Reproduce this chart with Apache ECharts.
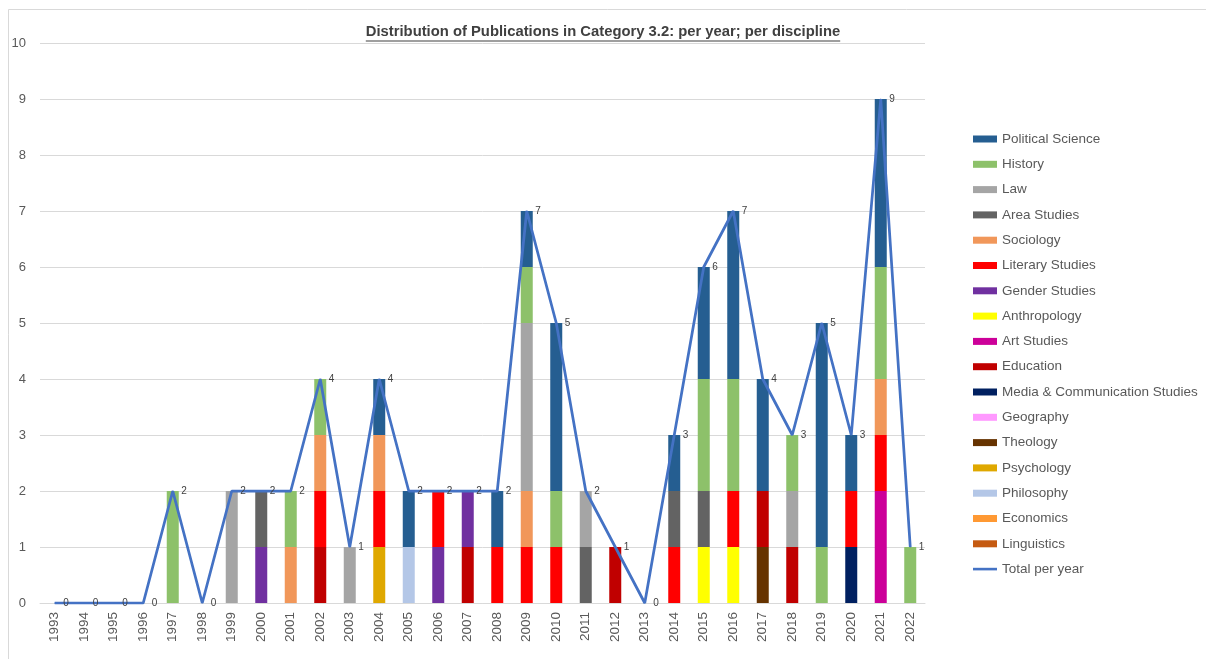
<!DOCTYPE html>
<html>
<head>
<meta charset="utf-8">
<script src="https://cdn.jsdelivr.net/npm/echarts@6/dist/echarts.min.js"></script>
<style>
html,body{margin:0;padding:0;background:#fff;}
#chart{width:1206px;height:659px;}
</style>
</head>
<body>
<div id="chart"></div>
<script>
const years = ['1993','1994','1995','1996','1997','1998','1999','2000','2001','2002','2003','2004','2005','2006','2007','2008','2009','2010','2011','2012','2013','2014','2015','2016','2017','2018','2019','2020','2021','2022'];
//                          93 94 95 96 97 98 99 00 01 02 03 04 05 06 07 08 09 10 11 12 13 14 15 16 17 18 19 20 21 22
const politicalScience   = [0, 0, 0, 0, 0, 0, 0, 0, 0, 0, 0, 1, 1, 0, 0, 1, 1, 3, 0, 0, 0, 1, 2, 3, 2, 0, 4, 1, 3, 0];
const history            = [0, 0, 0, 0, 2, 0, 0, 0, 1, 1, 0, 0, 0, 0, 0, 0, 1, 1, 0, 0, 0, 0, 2, 2, 0, 1, 1, 0, 2, 1];
const law                = [0, 0, 0, 0, 0, 0, 2, 0, 0, 0, 1, 0, 0, 0, 0, 0, 3, 0, 1, 0, 0, 0, 0, 0, 0, 1, 0, 0, 0, 0];
const areaStudies        = [0, 0, 0, 0, 0, 0, 0, 1, 0, 0, 0, 0, 0, 0, 0, 0, 0, 0, 1, 0, 0, 1, 1, 0, 0, 0, 0, 0, 0, 0];
const sociology          = [0, 0, 0, 0, 0, 0, 0, 0, 1, 1, 0, 1, 0, 0, 0, 0, 1, 0, 0, 0, 0, 0, 0, 0, 0, 0, 0, 0, 1, 0];
const literaryStudies    = [0, 0, 0, 0, 0, 0, 0, 0, 0, 1, 0, 1, 0, 1, 0, 1, 1, 1, 0, 0, 0, 1, 0, 1, 0, 0, 0, 1, 1, 0];
const genderStudies      = [0, 0, 0, 0, 0, 0, 0, 1, 0, 0, 0, 0, 0, 1, 1, 0, 0, 0, 0, 0, 0, 0, 0, 0, 0, 0, 0, 0, 0, 0];
const anthropology       = [0, 0, 0, 0, 0, 0, 0, 0, 0, 0, 0, 0, 0, 0, 0, 0, 0, 0, 0, 0, 0, 0, 1, 1, 0, 0, 0, 0, 0, 0];
const artStudies         = [0, 0, 0, 0, 0, 0, 0, 0, 0, 0, 0, 0, 0, 0, 0, 0, 0, 0, 0, 0, 0, 0, 0, 0, 0, 0, 0, 0, 2, 0];
const education          = [0, 0, 0, 0, 0, 0, 0, 0, 0, 1, 0, 0, 0, 0, 1, 0, 0, 0, 0, 1, 0, 0, 0, 0, 1, 1, 0, 0, 0, 0];
const mediaCommunication = [0, 0, 0, 0, 0, 0, 0, 0, 0, 0, 0, 0, 0, 0, 0, 0, 0, 0, 0, 0, 0, 0, 0, 0, 0, 0, 0, 1, 0, 0];
const geography          = [0, 0, 0, 0, 0, 0, 0, 0, 0, 0, 0, 0, 0, 0, 0, 0, 0, 0, 0, 0, 0, 0, 0, 0, 0, 0, 0, 0, 0, 0];
const theology           = [0, 0, 0, 0, 0, 0, 0, 0, 0, 0, 0, 0, 0, 0, 0, 0, 0, 0, 0, 0, 0, 0, 0, 0, 1, 0, 0, 0, 0, 0];
const psychology         = [0, 0, 0, 0, 0, 0, 0, 0, 0, 0, 0, 1, 0, 0, 0, 0, 0, 0, 0, 0, 0, 0, 0, 0, 0, 0, 0, 0, 0, 0];
const philosophy         = [0, 0, 0, 0, 0, 0, 0, 0, 0, 0, 0, 0, 1, 0, 0, 0, 0, 0, 0, 0, 0, 0, 0, 0, 0, 0, 0, 0, 0, 0];
const economics          = [0, 0, 0, 0, 0, 0, 0, 0, 0, 0, 0, 0, 0, 0, 0, 0, 0, 0, 0, 0, 0, 0, 0, 0, 0, 0, 0, 0, 0, 0];
const linguistics        = [0, 0, 0, 0, 0, 0, 0, 0, 0, 0, 0, 0, 0, 0, 0, 0, 0, 0, 0, 0, 0, 0, 0, 0, 0, 0, 0, 0, 0, 0];
const totalPerYear       = [0, 0, 0, 0, 2, 0, 2, 2, 2, 4, 1, 4, 2, 2, 2, 2, 7, 5, 2, 1, 0, 3, 6, 7, 4, 3, 5, 3, 9, 1];

const yTicks = [0,1,2,3,4,5,6,7,8,9,10];
const titleText = 'Distribution of Publications in Category 3.2: per year; per discipline';

// legend order (top to bottom); stacking uses the reverse order (bottom first)
const disciplines = [
  ['Political Science', politicalScience, '#255E91'],
  ['History', history, '#8DC16A'],
  ['Law', law, '#A5A5A5'],
  ['Area Studies', areaStudies, '#636363'],
  ['Sociology', sociology, '#F1975A'],
  ['Literary Studies', literaryStudies, '#FF0000'],
  ['Gender Studies', genderStudies, '#7030A0'],
  ['Anthropology', anthropology, '#FFFF00'],
  ['Art Studies', artStudies, '#CC0099'],
  ['Education', education, '#C00000'],
  ['Media & Communication Studies', mediaCommunication, '#002060'],
  ['Geography', geography, '#FF99FF'],
  ['Theology', theology, '#663300'],
  ['Psychology', psychology, '#DFA800'],
  ['Philosophy', philosophy, '#B4C7E7'],
  ['Economics', economics, '#FF9933'],
  ['Linguistics', linguistics, '#C55A11']
];

const FONT = 'Liberation Sans';
const chart = echarts.init(document.getElementById('chart'), null, {renderer:'canvas'});

const series = disciplines.slice().reverse().map(d => ({
  name: d[0], type: 'bar', stack: 'total', barWidth: 12,
  data: d[1].map(v => v === 0 ? '-' : v),
  itemStyle: {color: d[2]},
  emphasis: {disabled: true}
}));
series.push({
  name: 'Total per year', type: 'line', data: totalPerYear,
  symbol: 'circle', symbolSize: 1, showSymbol: true,
  lineStyle: {color: '#4472C4', width: 2.75},
  itemStyle: {color: '#4472C4'},
  label: {show: true, position: 'right', distance: 8, color: '#404040', fontSize: 10, fontFamily: FONT},
  z: 5, emphasis: {disabled: true}
});

// measure title width for underline
const TITLE_SIZE = 14.8;
const cv = document.createElement('canvas').getContext('2d');
cv.font = 'bold ' + TITLE_SIZE + 'px "' + FONT + '"';
const tw = cv.measureText(titleText).width;
const cx = 603;

const legendData = disciplines.map(d => ({name: d[0], icon: 'rect'}));
legendData.push({name: 'Total per year', icon: 'path://M0,0h24v2.6H0z'});

chart.setOption({
  animation: false,
  backgroundColor: '#fff',
  title: {
    text: titleText, left: cx, top: 24, padding: 0, textAlign: 'center',
    textStyle: {fontFamily: FONT, fontSize: TITLE_SIZE, fontWeight: 'bold', color: '#404040'}
  },
  graphic: [
    {type: 'polyline', silent: true, shape: {points: [[8.5, 659], [8.5, 9.5], [1206, 9.5]]}, style: {stroke: '#D9D9D9', lineWidth: 1, fill: null}},
    {type: 'rect', silent: true, z: 10, shape: {x: cx - tw / 2, y: 40.5, width: tw, height: 1}, style: {fill: '#404040'}}
  ],
  grid: {left: 40, right: 281, top: 43, bottom: 56, containLabel: false},
  legend: {
    orient: 'vertical', left: 973, top: 131, padding: 0, data: legendData,
    itemWidth: 24, itemHeight: 7, itemGap: 9.3,
    textStyle: {fontFamily: FONT, fontSize: 13.5, color: '#595959', lineHeight: 16},
    selectedMode: false
  },
  xAxis: {
    type: 'category', data: years,
    axisLine: {lineStyle: {color: '#D9D9D9'}},
    axisTick: {show: false},
    axisLabel: {rotate: 90, margin: 9, color: '#595959', fontFamily: FONT, fontSize: 13.5}
  },
  yAxis: {
    type: 'value', min: 0, max: 10, interval: 1,
    axisLine: {show: false}, axisTick: {show: false},
    splitLine: {lineStyle: {color: '#D9D9D9'}},
    axisLabel: {margin: 14, color: '#595959', fontFamily: FONT, fontSize: 13,
      formatter: v => String(yTicks[v])}
  },
  series: series
});
</script>
</body>
</html>
